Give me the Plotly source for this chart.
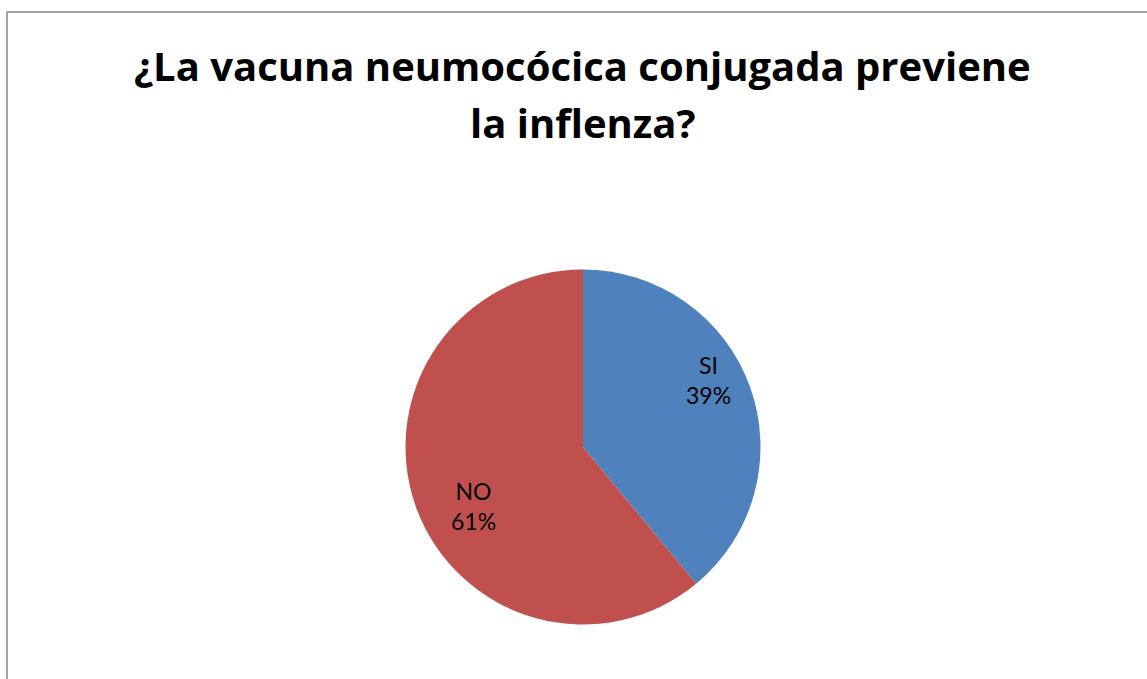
import math
import plotly.graph_objects as go

labels = ["SI", "NO"]
values = [39, 61]
colors = ["#4F81BD", "#C0504D"]
title_lines = ["¿La vacuna neumocócica conjugada previene", "la inflenza?"]

# label placement (fraction of radius) per slice, Excel best-fit look
label_radius = [0.80, 0.70]

W, H = 1147, 679
cx, cy, r = 583, 447, 177.5

fig = go.Figure(go.Pie(
    labels=labels,
    values=values,
    sort=False,
    direction="clockwise",
    rotation=0,
    marker=dict(colors=colors, line=dict(width=0)),
    textinfo="none",
    showlegend=False,
    hoverinfo="label+percent",
    domain=dict(x=[(cx - r) / W, (cx + r) / W], y=[1 - (cy + r) / H, 1 - (cy - r) / H]),
))

annotations = []
total = sum(values)
start = 0.0
for lab, v, lr in zip(labels, values, label_radius):
    frac = v / total
    mid = (start + frac / 2) * 2 * math.pi - math.radians(8.5)
    start += frac
    rr = lr * r
    px = cx + rr * math.sin(mid)
    py = cy - rr * math.cos(mid)
    annotations.append(dict(
        text=f"{lab}<br>{round(frac * 100)}%", xref="paper", yref="paper",
        x=px / W, y=1 - py / H, xanchor="center", yanchor="middle", showarrow=False,
        font=dict(family="Lato, Carlito, sans-serif", size=23, color="black"),
    ))

for i, line in enumerate(title_lines):
    annotations.append(dict(
        text=line, xref="paper", yref="paper", x=583 / W, y=1 - (66 + 56 * i) / H,
        xanchor="center", yanchor="middle", showarrow=False,
        font=dict(family="Open Sans, sans-serif", size=40, color="black", weight="bold"),
    ))

fig.update_layout(
    width=W, height=H,
    margin=dict(l=0, r=0, t=0, b=0),
    paper_bgcolor="white", plot_bgcolor="white",
    annotations=annotations,
    shapes=[dict(type="rect", xref="paper", yref="paper",
                 x0=7 / W, x1=1.05, y0=-0.05, y1=1 - 12 / H,
                 line=dict(color="#868686", width=1.5), fillcolor="rgba(0,0,0,0)")],
)

fig.write_html("out.html", config={"displayModeBar": False},
               post_script="document.body.style.margin='0';")
